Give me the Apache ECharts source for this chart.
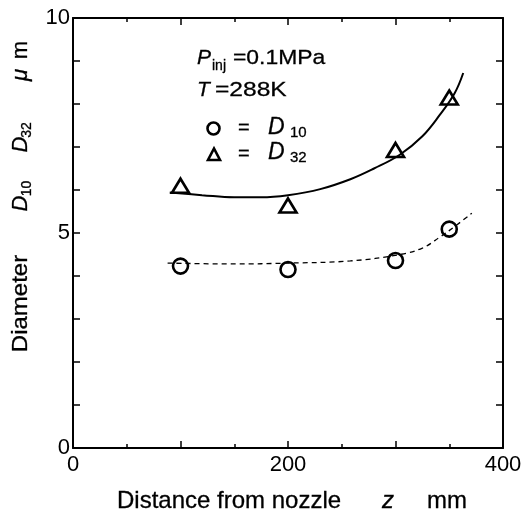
<!DOCTYPE html>
<html>
<head>
<meta charset="utf-8">
<script src="https://cdn.jsdelivr.net/npm/echarts@6/dist/echarts.min.js"></script>
<style>html,body{margin:0;padding:0;background:#fff}#c{width:525px;height:516px}</style>
</head>
<body>
<div id="c"></div>
<script>
// Measured points
var zPoints = [100, 200, 300, 350];
var d10Values = [4.23, 4.15, 4.36, 5.09];
var d32Values = [6.1, 5.64, 6.93, 8.15];
// Fitted curves
var d32FitZ = [90, 120, 150, 175, 200, 230, 258, 280, 304, 325, 341, 355, 363];
var d32FitV = [5.94, 5.88, 5.83, 5.83, 5.88, 6.02, 6.25, 6.5, 6.82, 7.25, 7.74, 8.25, 8.72];
var d10FitZ = [88, 150, 200, 258, 304, 325, 341, 355, 371];
var d10FitV = [4.3, 4.28, 4.3, 4.35, 4.5, 4.65, 4.9, 5.15, 5.46];
var xTickLabels = [0, 200, 400];
var yTickLabels = [0, 5, 10];

function zip(a, b) { return a.map(function (v, i) { return [v, b[i]]; }); }

var FF = '"Liberation Sans", Arial, sans-serif';
var chart = echarts.init(document.getElementById('c'));

function txt(text, x, y, size, opts) {
  opts = opts || {};
  return {
    type: 'text', x: x, y: y,
    rotation: opts.rot || 0,
    scaleX: opts.sx || 1,
    style: {
      text: text,
      font: (opts.italic ? 'italic ' : '') + size + 'px ' + FF,
      fill: '#000',
      stroke: '#000',
      lineWidth: 0.3,
      align: opts.align || 'left',
      textAlign: opts.align || 'left',
      verticalAlign: 'middle',
      textVerticalAlign: 'middle'
    }
  };
}

var axisCommon = {
  min: 0,
  axisLine: { show: true, onZero: false, lineStyle: { color: '#000', width: 2 } },
  splitLine: { show: false }
};

var R = Math.PI / 2;
chart.setOption({
  animation: false,
  backgroundColor: '#fff',
  grid: { left: 73, right: 22, top: 18, bottom: 68 },
  xAxis: [
    Object.assign({}, axisCommon, {
      type: 'value', position: 'bottom', max: 400, interval: 100,
      axisTick: { inside: true, length: 7, lineStyle: { color: '#000', width: 1.5 } },
      minorTick: { show: true, splitNumber: 2, length: 4, lineStyle: { color: '#000', width: 1.5 } },
      axisLabel: {
        margin: 6, color: '#000', fontSize: 22, fontFamily: FF,
        formatter: function (v) { return xTickLabels.indexOf(v) >= 0 ? String(v) : ''; }
      }
    }),
    Object.assign({}, axisCommon, {
      type: 'value', position: 'top', max: 400, interval: 100,
      axisTick: { inside: true, length: 7, lineStyle: { color: '#000', width: 1.5 } },
      minorTick: { show: true, splitNumber: 2, length: 4, lineStyle: { color: '#000', width: 1.5 } },
      axisLabel: { show: false }
    })
  ],
  yAxis: [
    Object.assign({}, axisCommon, {
      type: 'value', position: 'left', max: 10, interval: 1,
      axisTick: { inside: true, length: 7, lineStyle: { color: '#000', width: 1.5 } },
      axisLabel: {
        margin: 3, color: '#000', fontSize: 22, fontFamily: FF,
        formatter: function (v) { return yTickLabels.indexOf(v) >= 0 ? String(v) : ''; }
      }
    }),
    Object.assign({}, axisCommon, {
      type: 'value', position: 'right', max: 10, interval: 1,
      axisTick: { inside: true, length: 7, lineStyle: { color: '#000', width: 1.5 } },
      axisLabel: { show: false }
    })
  ],
  series: [
    {
      type: 'line', data: zip(d32FitZ, d32FitV), smooth: 0.4, showSymbol: false, symbol: 'none',
      lineStyle: { color: '#000', width: 2 }, z: 2
    },
    {
      type: 'line', data: zip(d10FitZ, d10FitV), smooth: 0.4, showSymbol: false, symbol: 'none',
      lineStyle: { color: '#000', width: 1.3, type: [5, 4] }, z: 2
    },
    {
      type: 'scatter', data: zip(zPoints, d10Values), symbol: 'circle', symbolSize: 15,
      itemStyle: { color: 'rgba(255,255,255,0)', borderColor: '#000', borderWidth: 2.6, opacity: 1 }, z: 3
    },
    {
      type: 'scatter', data: zip(zPoints, d32Values), symbol: 'triangle', symbolSize: [17, 14],
      itemStyle: { color: 'rgba(255,255,255,0)', borderColor: '#000', borderWidth: 2.6, opacity: 1 }, z: 3
    }
  ],
  graphic: [
    // y-axis title (rotated)
    txt('Diameter', 21, 303.5, 22, { rot: R, align: 'center', sx: 1.09 }),
    txt('D', 20.5, 203.5, 22, { rot: R, align: 'center', italic: true }),
    txt('10', 27, 188.5, 14, { rot: R, align: 'center' }),
    txt('D', 20.5, 144.5, 22, { rot: R, align: 'center', italic: true }),
    txt('32', 27.5, 130, 14, { rot: R, align: 'center' }),
    txt('\u03bc', 21, 75, 22, { rot: R, align: 'center', italic: true }),
    txt('m', 21, 50, 22, { rot: R, align: 'center' }),
    // x-axis title
    txt('Distance from nozzle', 117, 501, 24),
    txt('z', 382, 501, 24, { italic: true }),
    txt('mm', 427, 501, 24),
    // conditions
    txt('P', 197, 58.5, 21, { italic: true }),
    txt('inj', 212, 66.5, 14),
    txt('=0.1MPa', 233, 58.5, 21, { sx: 1.09 }),
    txt('T', 197, 90, 21, { italic: true }),
    txt('=288K', 215, 90, 21, { sx: 1.17 }),
    // legend
    { type: 'circle', shape: { cx: 213.5, cy: 128.5, r: 6 }, style: { fill: 'none', stroke: '#000', lineWidth: 2.6 } },
    txt('=', 238, 128, 20),
    txt('D', 268, 127.5, 23, { italic: true }),
    txt('10', 290, 132.5, 15),
    { type: 'polygon', shape: { points: [[208, 160], [220, 160], [214, 148.5]] }, style: { fill: 'none', stroke: '#000', lineWidth: 2.6 } },
    txt('=', 238, 154, 20),
    txt('D', 268, 152.5, 23, { italic: true }),
    txt('32', 290, 158, 15)
  ]
});
</script>
</body>
</html>
